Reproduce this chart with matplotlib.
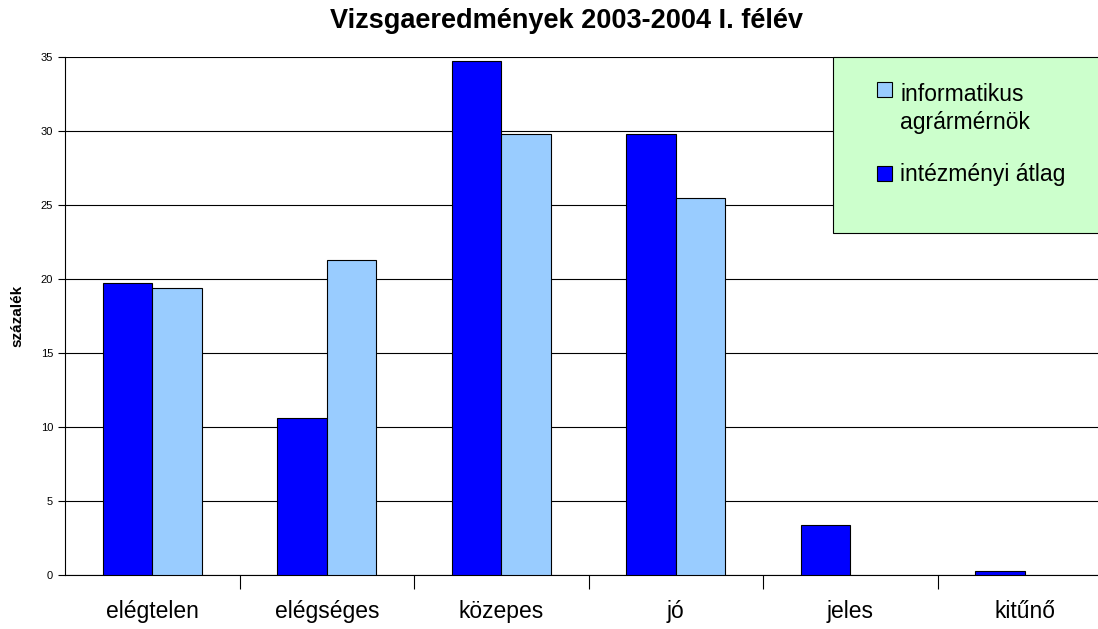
import matplotlib.pyplot as plt
import numpy as np
from matplotlib.patches import Rectangle

plt.rcParams['font.family'] = ['Liberation Sans', 'DejaVu Sans']

# adatok
kategoriak = ['elégtelen', 'elégséges', 'közepes', 'jó', 'jeles', 'kitűnő']
intezmenyi = [19.7, 10.6, 34.7, 29.8, 3.4, 0.3]
informatikus = [19.4, 21.3, 29.8, 25.5, 0, 0]

W, H = 1098, 629
fig = plt.figure(figsize=(W/100, H/100), dpi=100)
ax = fig.add_axes([65/W, 1-575/H, 1-65/W, (575-57)/H])

x = np.arange(len(kategoriak))
w = 0.284
ax.bar(x - w/2, intezmenyi, w, color='#0000FF', edgecolor='black', linewidth=0.8, zorder=3)
inf = np.array(informatikus, dtype=float)
ax.bar(x[inf > 0] + w/2, inf[inf > 0], w, color='#99CCFF', edgecolor='black', linewidth=0.8, zorder=3)

ax.set_xlim(-0.5, -0.5 + (W-65)/174.5)
ax.set_ylim(0, 35)
ax.set_yticks(range(0, 36, 5))
ax.yaxis.grid(True, color='black', linewidth=0.8, zorder=0)
ax.tick_params(axis='y', labelsize=8, length=5, width=0.8)
ax.set_xticks(x)
ax.set_xticklabels(kategoriak, fontsize=16.5)
ax.set_xticks(np.arange(0.5, len(kategoriak) - 0.5, 1), minor=True)
ax.tick_params(axis='x', which='major', length=0, pad=18)
ax.tick_params(axis='x', which='minor', length=10, width=0.8)
for s in ['top', 'right']:
    ax.spines[s].set_visible(False)
ax.spines['left'].set_linewidth(0.8)
ax.spines['bottom'].set_linewidth(0.8)

ax.set_ylabel('százalék', fontsize=11, fontweight='bold', labelpad=12)
fig.suptitle('Vizsgaeredmények 2003-2004 I. félév', fontsize=19.5, fontweight='bold',
             x=566/W, y=0.988)

# jelmagyarazat doboz (kézzel)
def fy(p):
    return 1 - p/H

box = Rectangle((833/W, fy(233)), 1.0, (233-57)/H, transform=fig.transFigure,
                facecolor='#CCFFCC', edgecolor='black', linewidth=0.8, zorder=5)
fig.patches.append(box)
fig.patches.append(Rectangle((877/W, fy(97)), 15/W, 15/H, transform=fig.transFigure,
                             facecolor='#99CCFF', edgecolor='black', linewidth=0.8, zorder=6))
fig.patches.append(Rectangle((877/W, fy(181)), 15/W, 15/H, transform=fig.transFigure,
                             facecolor='#0000FF', edgecolor='black', linewidth=0.8, zorder=6))
fig.text(900/W, fy(101), 'informatikus', fontsize=16.5, va='baseline', zorder=7)
fig.text(900/W, fy(129), 'agrármérnök', fontsize=16.5, va='baseline', zorder=7)
fig.text(900/W, fy(181), 'intézményi átlag', fontsize=16.5, va='baseline', zorder=7)

fig.savefig('out.png', dpi=100)
